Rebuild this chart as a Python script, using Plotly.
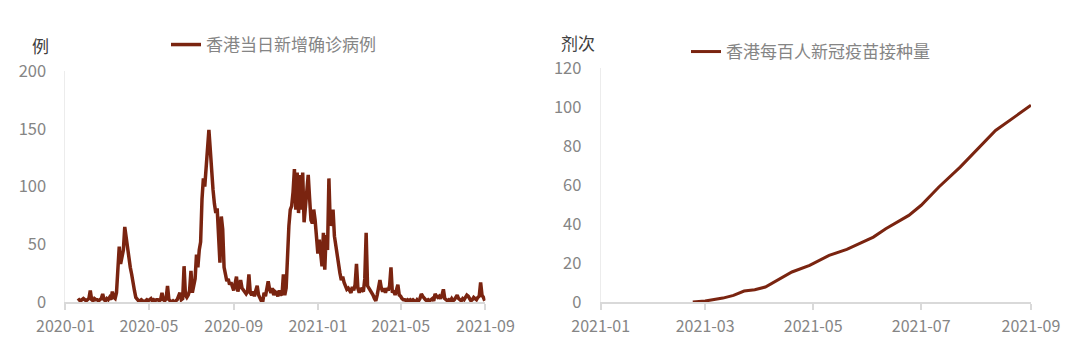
import pandas as pd
import plotly.graph_objects as go

# ---------------- data ----------------
# Hong Kong daily new confirmed cases, sampled every 2 days from 2020-01-19
case_start = "2020-01-19"
case_step = "2D"
case_values = [
    1, 2, 1, 2, 3, 2, 1, 2, 3, 10,
    2, 1, 3, 2, 2, 1, 2, 3, 7, 2,
    1, 3, 2, 4, 2, 9, 4, 3, 8, 25,
    48, 33, 40, 45, 65, 55, 45, 38, 30, 24,
    15, 10, 4, 2, 1, 1, 2, 1, 0, 1,
    2, 1, 2, 3, 1, 2, 1, 2, 2, 1,
    2, 8, 2, 1, 3, 14, 2, 1, 0, 1,
    0, 1, 2, 5, 8, 2, 3, 31, 6, 4,
    6, 10, 27, 8, 14, 20, 41, 30, 45, 52,
    89, 107, 100, 120, 129, 149, 132, 112, 97, 85,
    77, 81, 54, 34, 74, 63, 30, 22, 18, 20,
    15, 17, 12, 10, 16, 22, 9, 14, 19, 12,
    10, 8, 7, 9, 24, 8, 6, 9, 5, 10,
    14, 6, 3, 1, 0, 8, 5, 12, 18, 11,
    8, 12, 6, 9, 8, 5, 10, 7, 6, 24,
    6, 12, 45, 66, 80, 83, 95, 115, 80, 112,
    77, 110, 80, 112, 69, 85, 100, 110, 90, 71,
    68, 80, 71, 54, 42, 54, 40, 31, 60, 28,
    58, 45, 107, 66, 70, 80, 57, 48, 42, 31,
    25, 19, 22, 17, 14, 11, 12, 9, 8, 13,
    10, 15, 33, 12, 8, 12, 10, 9, 20, 60,
    14, 12, 11, 8, 6, 3, 1, 6, 12, 19,
    12, 9, 12, 8, 12, 10, 14, 30, 8, 10,
    6, 12, 15, 6, 5, 3, 2, 2, 1, 2,
    1, 2, 1, 2, 1, 0, 2, 1, 3, 7,
    5, 3, 2, 1, 2, 1, 2, 3, 1, 7,
    5, 4, 5, 3, 6, 11, 3, 2, 1, 2,
    1, 3, 1, 2, 4, 6, 3, 2, 1, 3,
    2, 4, 6, 5, 2, 1, 2, 4, 3, 2,
    4, 5, 17, 6, 4, 1,
]
case_dates = pd.date_range(case_start, periods=len(case_values), freq=case_step)
case_name = "香港当日新增确诊病例"

# Hong Kong vaccine doses per 100 people
vac_dates = [
    "2021-02-22", "2021-03-01", "2021-03-11", "2021-03-17", "2021-03-23",
    "2021-03-29", "2021-04-04", "2021-04-12", "2021-04-19", "2021-04-29",
    "2021-05-10", "2021-05-20", "2021-05-27", "2021-06-04", "2021-06-11",
    "2021-06-24", "2021-07-01", "2021-07-11", "2021-07-23", "2021-08-03",
    "2021-08-12", "2021-08-24", "2021-09-01",
]
vac_values = [
    0, 0.5, 2.0, 3.4, 5.6,
    6.3, 7.7, 12.0, 15.4, 18.8,
    23.9, 27.0, 29.9, 33.3, 37.6,
    44.4, 49.6, 59.0, 69.2, 79.5,
    88.0, 95.7, 100.9,
]
vac_name = "香港每百人新冠疫苗接种量"

left_ticks = ["2020-01-01", "2020-05-01", "2020-09-01", "2021-01-01", "2021-05-01", "2021-09-01"]
left_ticktext = ["2020-01", "2020-05", "2020-09", "2021-01", "2021-05", "2021-09"]
right_ticks = ["2021-01-01", "2021-03-01", "2021-05-01", "2021-07-01", "2021-09-01"]
right_ticktext = ["2021-01", "2021-03", "2021-05", "2021-07", "2021-09"]

left_unit = "例"
right_unit = "剂次"

# ---------------- style ----------------
LINE = "#7a2410"
FONT = "Noto Sans CJK SC"
TICK_C = "#858585"
AXIS_C = "#d9d9d9"

fig = go.Figure()
fig.add_trace(go.Scatter(
    x=case_dates, y=case_values, mode="lines", name=case_name,
    line=dict(color=LINE, width=3.5), xaxis="x", yaxis="y",
    legend="legend", showlegend=True,
))
fig.add_trace(go.Scatter(
    x=vac_dates, y=vac_values, mode="lines", name=vac_name,
    line=dict(color=LINE, width=3), xaxis="x2", yaxis="y2",
    legend="legend2", showlegend=True,
))

xcommon = dict(
    type="date", showgrid=False, zeroline=False, showline=True,
    linecolor=AXIS_C, linewidth=1.5, ticks="outside", ticklen=6,
    tickcolor=AXIS_C, tickwidth=1.5, automargin=False, ticklabelstandoff=3,
    tickfont=dict(family=FONT, size=16, color=TICK_C),
)
ycommon = dict(
    showgrid=False, zeroline=False, showline=True, linecolor="#ececec",
    linewidth=1, ticks="", ticklabelstandoff=15, automargin=False,
    tickfont=dict(family=FONT, size=16.5, color=TICK_C),
)

fig.update_layout(
    width=1080, height=360,
    margin=dict(l=0, r=0, t=0, b=0, autoexpand=False),
    paper_bgcolor="white", plot_bgcolor="white",
    showlegend=True,
    font=dict(family=FONT, color=TICK_C),
    xaxis=dict(xcommon, domain=[0.0606, 0.4495], anchor="y",
               range=["2020-01-01", "2021-09-01"],
               tickmode="array", tickvals=left_ticks, ticktext=left_ticktext),
    yaxis=dict(ycommon, domain=[0.1611, 0.8028], anchor="x",
               range=[0, 200], tickmode="linear", tick0=0, dtick=50),
    xaxis2=dict(xcommon, domain=[0.5562, 0.9546], anchor="y2",
                range=["2021-01-01", "2021-09-01"],
                tickmode="array", tickvals=right_ticks, ticktext=right_ticktext),
    yaxis2=dict(ycommon, domain=[0.1611, 0.8111], anchor="x2",
                range=[0, 120], tickmode="linear", tick0=0, dtick=20),
    legend=dict(x=166 / 1080, y=1 - 45 / 360, xanchor="left", yanchor="middle",
                bgcolor="rgba(0,0,0,0)", font=dict(family=FONT, size=17, color=TICK_C),
                itemwidth=30, tracegroupgap=0),
    legend2=dict(x=686 / 1080, y=1 - 52 / 360, xanchor="left", yanchor="middle",
                 bgcolor="rgba(0,0,0,0)", font=dict(family=FONT, size=17, color=TICK_C),
                 itemwidth=30, tracegroupgap=0),
    annotations=[
        dict(text=left_unit, x=40 / 1080, y=1 - 45 / 360, xref="paper", yref="paper",
             showarrow=False, xanchor="center", yanchor="middle",
             font=dict(family=FONT, size=17, color="#404040")),
        dict(text=right_unit, x=578 / 1080, y=1 - 42 / 360, xref="paper", yref="paper",
             showarrow=False, xanchor="center", yanchor="middle",
             font=dict(family=FONT, size=17, color="#404040")),
    ],
)

fig.write_html("out.html")
